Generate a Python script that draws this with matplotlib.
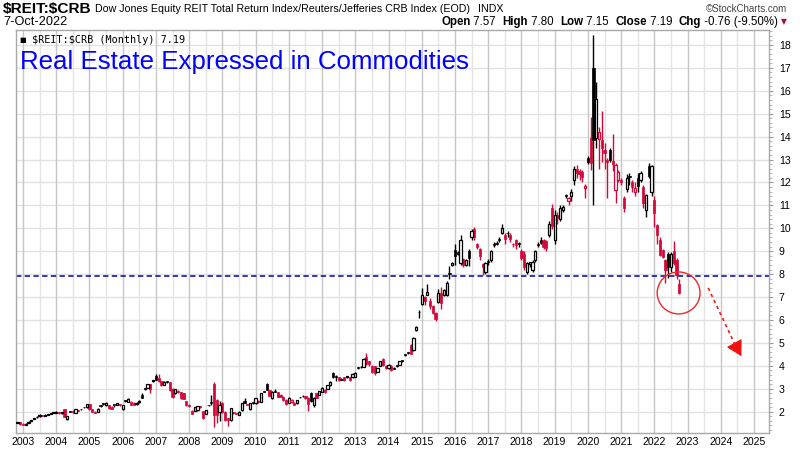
import matplotlib
matplotlib.use("Agg")
import matplotlib.pyplot as plt
import numpy as np
from matplotlib.patches import Ellipse

# ---------------- data (monthly candles, Nov 2002 .. Oct 2022) ----------------
start_year, start_month = 2002, 11

opens = [
    1.50, 1.54,
    1.48, 1.43, 1.52, 1.60, 1.68, 1.75, 1.80, 1.84, 1.83, 1.87, 1.91, 1.95,
    1.95, 1.97, 1.93, 2.10, 1.70, 2.01, 2.04, 1.95, 2.06, 2.10, 2.19, 2.19,
    2.33, 2.10, 2.00, 1.98, 2.25, 2.33, 2.27, 2.28, 2.22, 2.28, 2.30, 2.30,
    2.11, 2.47, 2.44, 2.44, 2.40, 2.33, 2.42, 2.73, 3.00, 3.05, 3.20, 3.33,
    3.56, 3.48, 3.33, 3.17, 3.32, 3.30, 3.00, 2.80, 2.92, 2.84, 2.80, 2.45,
    2.30, 2.05, 2.05, 2.07, 2.22, 2.03, 1.90, 2.28, 2.42, 3.22, 2.52, 1.98,
    2.40, 2.00, 1.72, 1.64, 1.96, 1.95, 1.86, 2.07, 2.45, 2.32, 2.10, 2.40,
    2.36, 2.46, 2.43, 2.90, 3.22, 2.94, 2.58, 2.90, 2.84, 2.73, 2.66, 2.50,
    2.40, 2.42, 2.40, 2.36, 2.64, 2.70, 2.68, 2.60, 2.82, 2.30, 2.80, 2.74,
    2.87, 2.95, 3.00, 3.16, 3.70, 3.56, 3.50, 3.43, 3.50, 3.52, 3.50, 3.50,
    3.53, 3.92, 3.95, 3.97, 4.40, 4.20, 4.00, 3.98, 3.75, 4.00, 4.30, 4.00,
    3.90, 4.00, 3.92, 4.00, 4.05, 4.22, 4.48, 4.56, 4.90, 4.70, 5.55, 6.35,
    6.70, 7.00, 7.10, 6.85, 6.60, 6.30, 6.80, 7.17, 7.10, 7.10, 8.05, 8.40,
    9.05, 8.95, 8.50, 8.65, 8.40, 9.00, 9.60, 9.98, 9.30, 9.10, 8.45, 8.10,
    8.55, 8.60, 9.30, 9.35, 9.50, 9.80, 9.70, 9.80, 9.70, 9.30, 9.50, 9.35,
    9.00, 8.90, 8.10, 8.45, 8.20, 8.60, 9.30, 9.50, 9.50, 9.45, 9.70, 10.90,
    9.50, 10.60, 10.40, 10.80, 11.45, 11.20, 11.40, 12.10, 12.60, 12.50, 12.45, 11.75,
    13.06, 13.93, 16.98, 13.93, 13.90, 13.86, 13.40, 13.00, 13.40, 12.95, 11.65, 12.10,
    12.10, 11.30, 11.70, 12.28, 12.00, 11.60, 12.20, 12.10, 11.80, 10.80, 12.70, 11.60,
    11.24, 10.14, 9.50, 9.05, 8.60, 8.90, 8.30, 9.00, 8.60, 7.57,
]

highs = [
    1.56, 1.55,
    1.49, 1.50, 1.58, 1.65, 1.73, 1.80, 1.88, 1.86, 1.88, 1.90, 1.95, 1.99,
    2.01, 1.99, 1.98, 2.12, 1.82, 2.04, 2.07, 2.12, 2.08, 2.13, 2.22, 2.35,
    2.34, 2.12, 2.02, 2.15, 2.28, 2.36, 2.42, 2.30, 2.24, 2.31, 2.38, 2.31,
    2.31, 2.52, 2.58, 2.46, 2.42, 2.42, 2.50, 2.80, 3.05, 3.22, 3.22, 3.40,
    3.66, 3.64, 3.36, 3.32, 3.34, 3.31, 3.02, 3.00, 2.94, 2.87, 2.83, 2.48,
    2.32, 2.07, 2.21, 2.26, 2.24, 2.05, 2.08, 2.30, 2.72, 3.28, 2.55, 2.45,
    2.42, 2.02, 1.74, 2.18, 1.98, 1.96, 2.02, 2.38, 2.60, 2.35, 2.38, 2.44,
    2.60, 2.50, 2.82, 2.92, 3.26, 2.96, 2.90, 3.00, 2.86, 2.76, 2.68, 2.55,
    2.62, 2.54, 2.42, 2.52, 2.66, 2.74, 2.70, 2.62, 2.88, 2.62, 2.82, 2.92,
    3.06, 2.97, 3.18, 3.32, 3.74, 3.58, 3.52, 3.46, 3.52, 3.56, 3.52, 3.68,
    3.72, 3.95, 3.98, 4.35, 4.58, 4.22, 4.02, 4.00, 3.92, 4.22, 4.32, 4.02,
    4.06, 4.02, 3.95, 4.03, 4.22, 4.25, 4.52, 4.60, 4.95, 5.25, 5.72, 6.43,
    7.40, 7.05, 7.55, 6.95, 6.65, 6.35, 7.35, 7.45, 7.35, 7.70, 8.35, 8.55,
    9.30, 9.00, 9.70, 8.70, 8.65, 9.10, 9.95, 10.05, 9.35, 9.15, 8.50, 8.55,
    8.65, 9.05, 9.40, 9.45, 9.60, 10.20, 9.80, 9.90, 9.80, 9.35, 9.55, 9.40,
    9.10, 9.00, 8.55, 8.55, 8.60, 9.05, 9.40, 9.60, 9.55, 9.50, 10.30, 11.05,
    10.80, 10.70, 11.00, 11.00, 11.50, 11.35, 11.70, 12.70, 12.75, 12.60, 12.55, 11.95,
    13.15, 14.85, 18.43, 16.40, 14.40, 15.10, 13.70, 13.05, 13.50, 14.10, 12.85, 12.55,
    12.20, 11.40, 12.35, 12.40, 12.10, 12.00, 12.40, 12.50, 11.90, 11.50, 12.85, 12.75,
    11.40, 10.20, 9.60, 9.10, 8.65, 8.95, 8.95, 9.45, 8.70, 7.80,
]

lows = [
    1.49, 1.43,
    1.41, 1.42, 1.51, 1.58, 1.66, 1.73, 1.78, 1.79, 1.82, 1.85, 1.90, 1.94,
    1.94, 1.91, 1.92, 1.76, 1.63, 1.97, 1.96, 1.94, 2.01, 2.07, 2.16, 2.18,
    2.08, 1.98, 1.93, 1.97, 2.22, 2.30, 2.26, 2.13, 2.10, 2.20, 2.29, 2.25,
    2.09, 2.44, 2.42, 2.28, 2.28, 2.30, 2.40, 2.58, 2.95, 3.04, 2.83, 3.30,
    3.37, 3.30, 3.14, 3.16, 3.26, 2.92, 2.58, 2.78, 2.80, 2.55, 2.54, 2.25,
    2.22, 1.88, 2.02, 2.05, 2.17, 1.69, 1.88, 2.24, 2.30, 1.35, 1.50, 1.60,
    1.95, 1.60, 1.38, 1.60, 1.90, 1.89, 1.84, 2.05, 2.36, 2.27, 2.08, 2.33,
    2.33, 2.38, 2.42, 2.84, 2.93, 2.68, 2.55, 2.84, 2.64, 2.62, 2.48, 2.28,
    2.38, 2.40, 2.28, 2.34, 2.58, 2.62, 2.56, 2.05, 2.44, 2.20, 2.58, 2.72,
    2.85, 2.82, 2.98, 3.14, 3.48, 3.33, 3.36, 3.38, 3.36, 3.48, 3.32, 3.48,
    3.52, 3.86, 3.89, 3.95, 4.05, 4.00, 3.68, 3.62, 3.72, 3.98, 3.98, 3.88,
    3.88, 3.78, 3.85, 3.96, 4.03, 4.16, 4.42, 4.50, 4.50, 4.65, 5.52, 6.10,
    6.65, 6.65, 7.08, 6.50, 6.25, 5.95, 6.75, 6.50, 7.05, 7.05, 7.80, 8.35,
    8.40, 8.85, 8.40, 8.30, 8.35, 8.35, 9.50, 9.50, 9.10, 8.60, 7.95, 8.00,
    8.40, 8.55, 9.20, 9.25, 9.40, 9.75, 9.30, 9.60, 9.40, 9.20, 9.10, 9.20,
    8.60, 8.20, 8.00, 8.30, 8.10, 8.55, 9.20, 9.30, 9.10, 9.00, 9.60, 9.95,
    9.30, 10.20, 10.30, 10.70, 11.30, 11.00, 11.20, 11.90, 12.20, 12.10, 12.00, 11.30,
    12.80, 12.55, 11.02, 13.50, 12.60, 12.90, 12.60, 11.30, 12.90, 12.50, 11.10, 12.00,
    11.90, 10.70, 11.60, 11.90, 11.60, 11.40, 11.60, 12.00, 10.90, 10.50, 12.20, 11.40,
    10.07, 9.30, 8.80, 8.70, 7.60, 7.85, 8.10, 8.40, 7.80, 7.15,
]

closes = [
    1.54, 1.47,
    1.43, 1.48, 1.56, 1.63, 1.71, 1.78, 1.86, 1.81, 1.85, 1.88, 1.93, 1.97,
    1.99, 1.93, 1.97, 1.78, 1.80, 2.00, 1.98, 2.10, 2.04, 2.10, 2.19, 2.33,
    2.10, 2.00, 1.95, 2.13, 2.25, 2.33, 2.40, 2.15, 2.13, 2.28, 2.36, 2.28,
    2.30, 2.47, 2.55, 2.30, 2.29, 2.40, 2.47, 2.60, 3.00, 3.20, 2.98, 3.35,
    3.40, 3.32, 3.16, 3.30, 3.31, 2.95, 2.62, 2.98, 2.84, 2.58, 2.56, 2.28,
    2.26, 1.90, 2.19, 2.24, 2.20, 1.72, 2.06, 2.27, 2.40, 1.86, 1.84, 2.30,
    1.98, 1.64, 1.62, 2.15, 1.93, 1.92, 2.00, 2.36, 2.40, 2.30, 2.36, 2.38,
    2.58, 2.43, 2.80, 2.87, 2.96, 2.70, 2.86, 2.88, 2.66, 2.64, 2.50, 2.32,
    2.58, 2.50, 2.30, 2.50, 2.62, 2.67, 2.58, 2.34, 2.47, 2.60, 2.59, 2.90,
    3.04, 2.85, 3.16, 3.30, 3.50, 3.51, 3.38, 3.40, 3.38, 3.53, 3.40, 3.66,
    3.70, 3.90, 3.93, 4.30, 4.10, 4.06, 3.72, 3.68, 3.90, 4.20, 4.02, 3.92,
    4.05, 3.80, 3.88, 4.00, 4.20, 4.21, 4.47, 4.55, 4.52, 5.20, 5.70, 6.33,
    7.10, 6.85, 7.20, 6.60, 6.30, 6.05, 7.17, 6.75, 7.30, 7.60, 8.00, 8.50,
    8.80, 8.90, 9.50, 8.40, 8.60, 8.70, 9.90, 9.60, 9.20, 8.80, 8.30, 8.50,
    8.52, 9.00, 9.28, 9.32, 9.48, 10.00, 9.55, 9.78, 9.55, 9.32, 9.25, 9.30,
    8.70, 8.30, 8.50, 8.52, 8.55, 9.00, 9.28, 9.35, 9.20, 9.15, 10.20, 10.10,
    10.60, 10.45, 10.90, 10.95, 11.40, 11.30, 11.60, 12.60, 12.40, 12.35, 12.25, 11.85,
    12.87, 12.85, 13.86, 15.63, 14.20, 13.50, 13.30, 12.90, 13.00, 12.80, 12.75, 12.47,
    12.03, 10.90, 12.20, 12.22, 11.80, 11.75, 11.85, 12.40, 11.10, 11.45, 12.30, 12.70,
    10.65, 9.70, 8.85, 8.75, 8.20, 8.30, 8.90, 8.50, 7.95, 7.19,
]

year_ticks = list(range(2003, 2026))
price_ticks = list(range(2, 19))
support_level = 7.9

# ---------------- figure ----------------
W, H = 800, 450
fig = plt.figure(figsize=(W / 100, H / 100), dpi=100, facecolor="white")
L, R, T, B = 16, 769, 30, 433
ax = fig.add_axes([L / W, 1 - B / H, (R - L) / W, (B - T) / H])
ax.set_facecolor("white")

RED = "#d2073a"
o = np.array(opens); h = np.array(highs); lo = np.array(lows); c = np.array(closes)
n = len(c)
xs = np.array([start_year + (start_month - 1 + i) / 12.0 for i in range(n)])
prev = np.concatenate([[o[0]], c[:-1]])
cols = np.where(c >= prev, "black", RED)
hollow = c > o

ax.vlines(xs, lo, h, colors=cols, lw=1.0, zorder=3)
bw = 0.066
body_lo = np.minimum(o, c)
body_h = np.maximum(np.abs(c - o), 0.035)
m = ~hollow
ax.bar(xs[m], body_h[m], bottom=body_lo[m], width=bw, color=cols[m],
       edgecolor=cols[m], lw=0.5, zorder=4)
ax.bar(xs[hollow], body_h[hollow], bottom=body_lo[hollow], width=bw,
       facecolor="white", edgecolor=cols[hollow], lw=0.9, zorder=4)

# grid
ax.set_xlim(2002.79, 2025.45)
ax.set_ylim(1.07, 18.65)
for yv in price_ticks:
    ax.axhline(yv, color="#e1e1e1", lw=1.0, zorder=0)
for yr in year_ticks:
    ax.axvline(yr, color="#c6c6c6", lw=1.0, zorder=0)
    ax.axvline(yr + 0.5, color="#e4e4e4", lw=1.0, zorder=0)
ax.axvline(2002.5, color="#e4e4e4", lw=1.0, zorder=0)

# support line, circle, arrow
ax.axhline(support_level, color="#0000b0", lw=1.1, ls=(0, (3.5, 2.2)), zorder=2)
ax.add_patch(Ellipse((2022.73, 7.18), 1.29, 1.83, fill=False, ec="#f02828", lw=1.0, zorder=5))
ax.plot([2023.62, 2024.42], [7.40, 4.95], color="#f02020", lw=1.2, ls=(0, (2, 2)), zorder=5)
ax.annotate("", xy=(2024.62, 4.42), xytext=(2024.40, 5.00),
            arrowprops=dict(arrowstyle="-|>,head_length=0.8,head_width=0.45",
                            color="#f01010", lw=0.8, mutation_scale=12,
                            shrinkA=0, shrinkB=0), zorder=6)

# axes
ax.yaxis.tick_right()
ax.set_yticks(price_ticks)
ax.set_yticks(np.arange(1.2, 18.65, 0.2), minor=True)
ax.tick_params(axis="y", which="major", length=3, color="#999999", labelsize=7.6, pad=4)
ax.tick_params(axis="y", which="minor", length=2, color="#aaaaaa")
ax.set_xticks(year_ticks)
ax.set_xticklabels([str(y) for y in year_ticks])
ax.tick_params(axis="x", length=0, labelsize=7.6, pad=3)
for lab in ax.get_xticklabels() + ax.get_yticklabels():
    lab.set_family(["Liberation Sans", "DejaVu Sans"])
for s in ax.spines.values():
    s.set_color("#a8a8a8")
    s.set_linewidth(1.0)

# ---------------- texts ----------------
def px(x, y):
    return x / W, 1 - y / H

renderer = fig.canvas.get_renderer()

def fit(t, width_px):
    bb = t.get_window_extent(renderer)
    t.set_fontsize(t.get_fontsize() * width_px / bb.width)

NARROW = ["Liberation Sans Narrow", "DejaVu Sans Condensed", "Liberation Sans", "DejaVu Sans"]

t = fig.text(*px(3, 9), r"\$REIT:\$CRB", fontsize=10, fontweight="bold", family=NARROW, va="center")
fit(t, 89)
t = fig.text(*px(95, 9), "Dow Jones Equity REIT Total Return Index/Reuters/Jefferies CRB Index (EOD)",
             fontsize=8, family=NARROW, va="center")
fit(t, 373)
fig.text(*px(478, 9), "INDX", fontsize=t.get_fontsize(), family=NARROW, va="center")
t = fig.text(*px(787, 9), "\u00a9StockCharts.com", fontsize=8, family=NARROW, va="center",
             ha="right", color="#444444")
fit(t, 82)
t = fig.text(*px(3, 22), "7-Oct-2022", fontsize=8, family=NARROW, va="center")
fit(t, 64)

# OHLC header pieces
pieces = [("Open", True), (" 7.57  ", False), ("High", True), (" 7.80  ", False),
          ("Low", True), (" 7.15  ", False), ("Close", True), (" 7.19  ", False),
          ("Chg", True), (" -0.76 (-9.50%)", False)]
xcur = 441
for s, bold in pieces:
    tt = fig.text(*px(xcur, 22), s, fontsize=8.3, family=NARROW, va="center",
                  fontweight="bold" if bold else "normal")
    xcur += tt.get_window_extent(renderer).width
fig.text(*px(xcur + 3, 22), "\u25bc", fontsize=5.5, color="#a0103a", va="center",
         family=["DejaVu Sans"])

# legend line inside plot
fig.text(*px(19, 40), "\u25a0", fontsize=5, va="center", color="black", family=["DejaVu Sans"])
t = fig.text(*px(32, 40), r"\$REIT:\$CRB (Monthly) 7.19", fontsize=7.5,
             family=["DejaVu Sans Mono"], va="center")
fit(t, 152)

t = fig.text(*px(20, 62), "Real Estate Expressed in Commodities", fontsize=18,
             family=["Liberation Sans", "DejaVu Sans"], color="#0000ff", va="center")
fit(t, 447)

fig.savefig("out.png", dpi=100, facecolor="white")
